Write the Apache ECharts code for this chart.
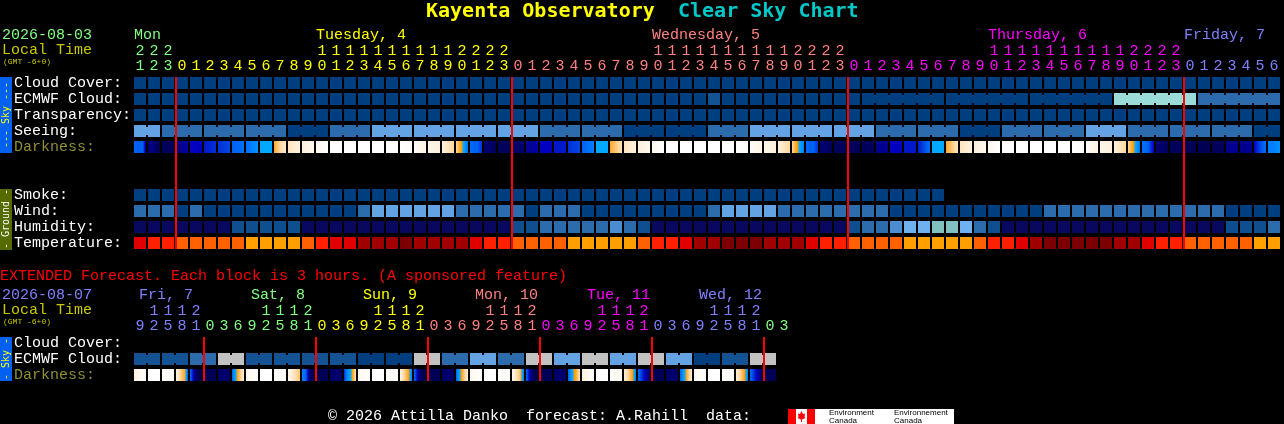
<!DOCTYPE html>
<html>
<head>
<meta charset="utf-8">
<style>html,body{margin:0;padding:0;background:#000}#chart{width:1284px;height:424px}</style>
<script src="https://cdn.jsdelivr.net/npm/echarts@6/dist/echarts.min.js"></script>
</head>
<body>
<div id="chart"></div>
<script>
// ---------- tick labels ----------
const mainHours = [21,22,23,0,1,2,3,4,5,6,7,8,9,10,11,12,13,14,15,16,17,18,19,20,21,22,23,
  0,1,2,3,4,5,6,7,8,9,10,11,12,13,14,15,16,17,18,19,20,21,22,23,
  0,1,2,3,4,5,6,7,8,9,10,11,12,13,14,15,16,17,18,19,20,21,22,23,
  0,1,2,3,4,5,6];
const extHours = [9,12,15,18,21,0,3,6,9,12,15,18,21,0,3,6,9,12,15,18,21,0,3,6,9,12,15,18,21,
  0,3,6,9,12,15,18,21,0,3,6,9,12,15,18,21,0,3];
const mainRowNames = ['Cloud Cover:','ECMWF Cloud:','Transparency:','Seeing:','Darkness:','','','Smoke:','Wind:','Humidity:','Temperature:'];
const extRowNames = ['Cloud Cover:','ECMWF Cloud:','Darkness:'];
const mainDayNames = ['Mon','Tuesday, 4','Wednesday, 5','Thursday, 6','Friday, 7'];
const mainDayStarts = [0,13,37,61,75];
const mainMidnights = [3,27,51,75];
const mainColourStarts = [0,3,27,51,75];
const mainColourDays = [0,1,2,3,4];
const extDayNames = ['Fri, 7','Sat, 8','Sun, 9','Mon, 10','Tue, 11','Wed, 12'];
const extDayStarts = [0,8,16,24,32,40];
const extDayColours = [4,0,1,2,3,4];
const extMidnights = [5,13,21,29,37,45];
const extColourStarts = [0,5,13,21,29,37,45];
const extColourDays = [4,0,1,2,3,4,0];

// ---------- series values (level) ----------
const cloudCover = [0,0,0,0,0,0,0,0,0,0,0,0,0,0,0,0,0,0,0,0,0,0,0,0,0,0,0,0,0,0,0,0,0,0,0,0,0,0,0,0,0,0,0,0,0,0,0,0,0,0,0,0,0,0,0,0,0,0,0,0,0,0,0,0,0,0,0,0,0,0,0,0,0,0,0,0,0,0,0,0,0,0];
const ecmwfCloud = [0,0,0,0,0,0,0,0,0,0,0,0,0,0,0,0,0,0,0,0,0,0,0,0,0,0,0,0,0,0,0,0,0,0,0,0,0,0,0,0,0,1,0,0,0,0,0,0,0,0,0,0,0,0,0,0,0,0,0,0,0,0,0,0,0,0,0,0,0,0,5,5,5,5,5,5,2,2,2,2,2,2];
const transparency = [0,0,0,0,0,0,0,0,0,0,0,0,0,0,0,0,0,0,0,0,0,0,0,0,0,0,0,0,0,0,0,0,0,0,0,0,0,0,0,0,0,0,0,0,0,0,0,0,0,0,0,0,0,0,0,0,0,0,0,0,0,0,0,0,0,0,0,0,0,0,0,0,0,0,0,0,0,0,0,0,0,0];
const seeing = [4,4,2,2,2,2,2,2,2,2,2,0,0,0,2,2,2,4,4,4,4,4,4,4,4,4,4,4,4,2,2,2,2,2,2,0,0,0,0,0,0,2,2,2,4,4,4,4,4,4,4,4,4,2,2,2,2,2,2,0,0,0,2,2,2,2,2,2,4,4,4,2,2,2,2,2,2,2,2,2,0,0];
const darkness = [
  [5,5,5,5,2],[1,2,1,0.7],[1,1],[1.5,2.5],[3,3],[3.5,4],[4,4.5],[5,5.5],[5.5,6.5],[7,7],
  [8,8.7,9.3,9.6],[9.5,10],[10,10.5],[10.5,11],[11,11],[11,11],[11,11],[11,11],[11,11],[11,10.8],
  [10.8,10.3],[10.3,10],[10,9.5,9],[9,8,7,5.5],[5.5,5,5,4],[1.5,1],[1,1],[1,1.5],[2,2.5],[3,3],
  [3.5,3.5],[4,4.5],[5,5.5,6],[7,7],[8,8.7,9.3],[9.5,10],[10,10.5],[10.5,11],[11,11],[11,11],
  [11,11],[11,11],[11,11],[11,10.9],[10.7,10.3],[10.3,10],[10,9.5,9],[9,8,7,6],[5.5,5,5,4],[1.5,1],
  [1,1],[1,1],[1,1],[2,2],[3,3],[3.5,3.5],[3.5,4.5,5.5],[7,7],[8,8.7,9.5],[9.5,10],
  [10,10.5],[10.5,11],[11,11],[11,11],[11,11],[11,11],[11,11],[11,10.8],[10.8,10.3],[10.3,10],
  [10,9.5,9],[9,8,7,5.5],[5.5,5,3],[1.5,1],[1,1],[0.7,0.7],[0.7,0.7],[1,1],[2,2],[2,2],
  [3,4.5,5.5],[6,6,6.5]];
const smoke = [0,0,0,0,0,0,0,0,0,0,0,0,0,0,0,0,0,0,0,0,0,0,0,0,0,0,0,0,0,0,0,0,0,0,0,0,0,0,0,0,0,0,0,0,0,0,0,0,0,0,0,0,0,0,0,0,0,0];
const wind = [2,2,2,0,2,0,0,0,0,0,0,0,0,0,0,0,2,4,4,4,4,4,4,2,2,2,2,2,0,2,2,2,0,0,0,0,0,0,0,0,0,2,4,4,4,4,2,2,2,2,2,2,2,2,0,0,0,0,0,0,0,0,0,0,0,2,2,2,2,2,2,2,2,2,2,2,2,2,0,0,0,0];
const humidity = [0,0,0,0,0,0,0,1,1,1,1,1,0,0,0,0,0,0,0,0,0,0,0,0,0,0,0,1,1,2,2,2,2,2,3,2,1,0,0,0,0,0,0,0,0,0,0,0,0,0,0,1,2,2,3,4,4,5,5,4,2,1,0,0,0,0,0,0,0,0,0,0,0,0,0,0,0,0,1,1,1,2];
const temperature = [2,3,3,4,4,4,4,4,5,5,5,5,4,3,2,2,1,1,1,0,1,1,1,1,2,3,3,4,4,4,4,5,5,5,5,5,4,3,3,2,1,1,0,0,0,1,1,1,2,3,3,4,4,4,4,5,5,5,5,5,4,3,3,2,1,0,0,0,0,0,1,1,2,3,3,4,4,4,4,4,5,5];
const extEcmwfCloud = [1,1,1,1,2,2,6,6,1,1,1,1,1,1,1,1,0,0,0,0,6,6,2,2,4,4,2,2,6,6,4,4,6,6,4,4,6,6,4,4,0,0,1,1,6,6];
const extDarkness = [
  [10,10.6,11],[11,11],[11,10.7],[10.3,9.5,8.5,8,5],[5.5,1,0.7],[0.7,0.7],[1,1.5,1],[5,7,8,9,10],
  [10.5,11],[11,11],[11,10.7],[10.5,9.5,8.5],[6,5,1,0.7],[0.7,0.7],[1,1.5,1],[4,6,7,8,9.5],
  [10.5,11],[11,11],[11,10.7],[10.3,9,8,6],[5.5,1,0.7],[0.7,0.7],[1,1.5,1],[5,7,8,9,10],
  [10.5,11],[11,11],[11,10.7],[10.5,9.5,8.5,6],[5.5,1,0.7],[0.7,0.7],[1,1.5,1],[5,7,8,9.5],
  [10,11],[11,11],[11,10.5],[10,9,8,6],[5.5,1],[0.7,0.7],[1,1.5,1],[5,7,8.5,10],
  [10.5,11],[11,11],[11,10.7],[10,9,8,6],[5.5,1],[0.7,0.7]];

// ---------- forecast steps that are drawn joined ----------
const seeingSpans = [[0,1],[2,4],[5,7],[8,10],[11,13],[14,16],[17,19],[20,22],[23,25],[26,28],[29,31],[32,34],[35,37],[38,40],[41,43],[44,46],[47,49],[50,52],[53,55],[56,58],[59,61],[62,64],[65,67],[68,70],[71,73],[74,76],[77,79],[80,81]];
const ecmwfSpans = [[52,57],[58,63],[64,69],[70,75],[76,81]];
const extEcmwfSpans = [[0,1],[2,3],[4,5],[6,7],[8,9],[10,11],[12,13],[14,15],[16,17],[18,19],[20,21],[22,23],[24,25],[26,27],[28,29],[30,31],[32,33],[34,35],[36,37],[38,39],[40,41],[42,43],[44,45]];

// ---------- colours ----------
const dayColours = ['#80ff80','#ffff00','#ff8080','#ff00ff','#8080ff'];
const skyPalette = ['#003f7f','#135394','#2c6cac','#4c8ccc','#63a3e3','#9bdbd8','#c2c2c2'];
const humidityPalette = ['#08085e','#0f4f8f','#2c6cac','#4c8cd0','#6eb0f0','#82bfbf'];
const temperaturePalette = ['#7c0000','#a00000','#e00000','#ff2000','#ff6000','#ffa000'];
const coolRamp = [[0,'#000040'],[1,'#00005c'],[2,'#000090'],[3,'#0000c0'],[4,'#0030d8'],[5,'#0060f0'],[6,'#0080ff'],[7,'#00a8ff']];
const warmRamp = [[7.5,'#ff9800'],[8,'#ffa828'],[9,'#ffd8a0'],[10,'#fff0dc'],[11,'#ffffff']];

const FONT = '"Liberation Mono", monospace';
const TITLE_FONT = '"DejaVu Sans Mono", monospace';

function rampColour(v){
  const r = v < 7.5 ? coolRamp : warmRamp;
  if (v <= r[0][0]) return r[0][1];
  for (let i = 1; i < r.length; i++) {
    if (v <= r[i][0]) return echarts.color.lerp((v - r[i-1][0]) / (r[i][0] - r[i-1][0]), [r[i-1][1], r[i][1]]);
  }
  return r[r.length-1][1];
}
function cellGradient(samples){
  const stops = [];
  const n = 12;
  for (let i = 0; i <= n; i++) {
    const p = i / n * (samples.length - 1);
    const k = Math.min(Math.floor(p), samples.length - 2);
    const v = samples[k] + (samples[k+1] - samples[k]) * (p - k);
    stops.push({offset: i / n, color: rampColour(v)});
  }
  return new echarts.graphic.LinearGradient(0, 0, 1, 0, stops);
}
function colourFor(col, starts, days){
  let d = days[0];
  starts.forEach((s, i) => { if (col >= s) d = days[i]; });
  return dayColours[d];
}
const tens = h => h >= 10 ? String(Math.floor(h / 10)) : '';
const ones = h => String(h % 10);

// level cells on a row; joined neighbours get a narrow connector
function levelSeries(gridIndex, xIdx, yIdx, row, values, palette, spans){
  return {
    type: 'custom', xAxisIndex: xIdx, yAxisIndex: yIdx, silent: true, z: 2,
    encode: {x: 0, y: 1},
    data: values.map((v, c) => [c, row, v]),
    renderItem(params, api){
      const c = api.value(0), lvl = api.value(2);
      const p = api.coord([c, row]);
      const band = api.size([1, 1]);
      const fill = palette[lvl];
      const w = band[0] - 2, h = band[1] - 4;
      const kids = [{type:'rect', shape:{x:p[0]-w/2, y:p[1]-h/2, width:w, height:h}, style:{fill}}];
      if ((spans||[]).some(s => c >= s[0] && c < s[1])) {
        kids.push({type:'rect', shape:{x:p[0]+w/2, y:p[1]-h/2+2, width:band[0]-w, height:h-4}, style:{fill}});
      }
      return {type:'group', children:kids};
    }
  };
}
function darknessSeries(xIdx, yIdx, row, values){
  return {
    type: 'custom', xAxisIndex: xIdx, yAxisIndex: yIdx, silent: true, z: 2,
    encode: {x: 0, y: 1},
    data: values.map((v, c) => [c, row]),
    renderItem(params, api){
      const c = api.value(0);
      const p = api.coord([c, row]);
      const band = api.size([1, 1]);
      const w = band[0] - 2, h = band[1] - 4;
      return {type:'rect', shape:{x:p[0]-w/2, y:p[1]-h/2, width:w, height:h}, style:{fill: cellGradient(values[c])}};
    }
  };
}
function midnightSeries(xIdx, yIdx, cols, firstRow, lastRow){
  return {
    type: 'custom', xAxisIndex: xIdx, yAxisIndex: yIdx, silent: true, z: 5,
    encode: {x: 0},
    data: cols.map(c => [c, firstRow]),
    renderItem(params, api){
      const c = api.value(0);
      const top = api.coord([c, firstRow]), bot = api.coord([c, lastRow]);
      const band = api.size([1, 1]);
      const hh = (band[1] - 4) / 2;
      return {type:'rect', shape:{x:top[0]-band[0]/2, y:top[1]-hh, width:2, height:bot[1]-top[1]+2*hh}, style:{fill:'#ff0000'}};
    }
  };
}
function dayLabelSeries(xIdx, yIdx, names, starts, colourOf, dx){
  return {
    type: 'custom', xAxisIndex: xIdx, yAxisIndex: yIdx, silent: true, z: 3,
    encode: {x: 0},
    data: starts.map(c => [c, 0]),
    renderItem(params, api){
      const p = api.coord([api.value(0), 0]);
      return {type:'text', style:{text:names[params.dataIndex], x:p[0]+dx, y:p[1]-47.5,
        fill:colourOf(params.dataIndex), font:'15px '+FONT, align:'left', verticalAlign:'middle'}};
    }
  };
}
function hourAxis(gridIndex, labels, offset, starts, days){
  return {
    type:'category', gridIndex, position:'top', offset, data: labels,
    axisLine:{show:false}, axisTick:{show:false}, splitLine:{show:false},
    axisLabel:{show:true, interval:0, margin:1, fontFamily:FONT, fontSize:15, verticalAlign:'bottom',
      color:(v, i) => colourFor(i, starts, days)}
  };
}
function rowAxis(gridIndex, names){
  return {
    type:'category', gridIndex, inverse:true, data:names,
    axisLine:{show:false}, axisTick:{show:false}, splitLine:{show:false},
    axisLabel:{show:true, interval:0, margin:119, align:'left', fontFamily:FONT, fontSize:15,
      padding:[0,0,3,0], color:v => v === 'Darkness:' ? '#909030' : '#ffffff'}
  };
}
function txt(text, x, y, fill, size, opts){
  return {type:'text', x, y, silent:true, style:{text, fill, font:(opts&&opts.bold?'bold ':'')+size+'px '+((opts&&opts.family)||FONT), align:'left', verticalAlign:'middle'}};
}
function band(y, h, fill){ return {type:'rect', silent:true, shape:{x:0,y,width:12,height:h}, style:{fill}}; }
function bandText(t, y, fill){ return {type:'text', x:6, y, rotation:Math.PI/2, silent:true, style:{text:t, fill, font:'10px '+TITLE_FONT, align:'center', verticalAlign:'middle'}}; }

const option = {
  backgroundColor:'#000000', animation:false, tooltip:{show:false}, legend:{show:false},
  grid:[
    {left:133, top:75, width:1148, height:176, containLabel:false},
    {left:133, top:335, width:658, height:48, containLabel:false}
  ],
  xAxis:[
    hourAxis(0, mainHours.map(ones), 0, mainColourStarts, mainColourDays),
    hourAxis(0, mainHours.map(tens), 15, mainColourStarts, mainColourDays),
    hourAxis(1, extHours.map(ones), 0, extColourStarts, extColourDays),
    hourAxis(1, extHours.map(tens), 15, extColourStarts, extColourDays)
  ],
  yAxis:[rowAxis(0, mainRowNames), rowAxis(1, extRowNames)],
  series:[
    levelSeries(0,0,0,0,cloudCover,skyPalette),
    levelSeries(0,0,0,1,ecmwfCloud,skyPalette,ecmwfSpans),
    levelSeries(0,0,0,2,transparency,skyPalette),
    levelSeries(0,0,0,3,seeing,skyPalette,seeingSpans),
    darknessSeries(0,0,4,darkness),
    levelSeries(0,0,0,7,smoke,skyPalette),
    levelSeries(0,0,0,8,wind,skyPalette),
    levelSeries(0,0,0,9,humidity,humidityPalette),
    levelSeries(0,0,0,10,temperature,temperaturePalette),
    midnightSeries(0,0,mainMidnights,0,10),
    dayLabelSeries(0,0,mainDayNames,mainDayStarts,i => dayColours[i],-6),
    levelSeries(1,2,1,1,extEcmwfCloud,skyPalette,extEcmwfSpans),
    darknessSeries(2,1,2,extDarkness),
    midnightSeries(2,1,extMidnights,0,2),
    dayLabelSeries(2,1,extDayNames,extDayStarts,i => dayColours[extDayColours[i]],-1)
  ],
  graphic:[
    txt('Kayenta Observatory',426,12,'#ffff00',20,{bold:true,family:TITLE_FONT}),
    txt('Clear Sky Chart',678,12,'#00c8c8',20,{bold:true,family:TITLE_FONT}),
    txt('2026-08-03',2,35.5,'#80ff80',15),
    txt('Local Time',2,50.5,'#c8c800',15),
    txt('(GMT -6+0)',3,62,'#c8c800',8),
    band(77,76,'#0060f0'), bandText('--- Sky ---',115,'#ffff00'),
    band(189,61,'#556b00'), bandText('- Ground -',219,'#ffffff'),
    txt('EXTENDED Forecast. Each block is 3 hours. (A sponsored feature)',0,276,'#ff0000',15),
    txt('2026-08-07',2,295.5,'#8080ff',15),
    txt('Local Time',2,310.5,'#c8c800',15),
    txt('(GMT -6+0)',3,322,'#c8c800',8),
    band(337,44,'#0060f0'), bandText('- Sky -',359,'#ffff00'),
    txt('\u00a9 2026 Attilla Danko  forecast: A.Rahill  data:',328,416,'#ffffff',15),
    {type:'rect', silent:true, shape:{x:788,y:409,width:166,height:15}, style:{fill:'#ffffff'}},
    {type:'rect', silent:true, shape:{x:788,y:409,width:8,height:15}, style:{fill:'#ff0000'}},
    {type:'rect', silent:true, shape:{x:807,y:409,width:8,height:15}, style:{fill:'#ff0000'}},
    {type:'polygon', silent:true, shape:{points:[[801.5,411],[803,414],[805,413.5],[804.5,417],[805.5,418],[802,419.5],[802,422],[801,422],[801,419.5],[797.5,418],[798.5,417],[798,413.5],[800,414]]}, style:{fill:'#ff0000'}},
    txt('Environment',829,412.5,'#000000',8,{family:'"Liberation Sans", sans-serif'}),
    txt('Canada',829,420.5,'#000000',8,{family:'"Liberation Sans", sans-serif'}),
    txt('Environnement',894,412.5,'#000000',8,{family:'"Liberation Sans", sans-serif'}),
    txt('Canada',894,420.5,'#000000',8,{family:'"Liberation Sans", sans-serif'})
  ]
};
const chart = echarts.init(document.getElementById('chart'), null, {renderer:'canvas'});
chart.setOption(option);
</script>
</body>
</html>
